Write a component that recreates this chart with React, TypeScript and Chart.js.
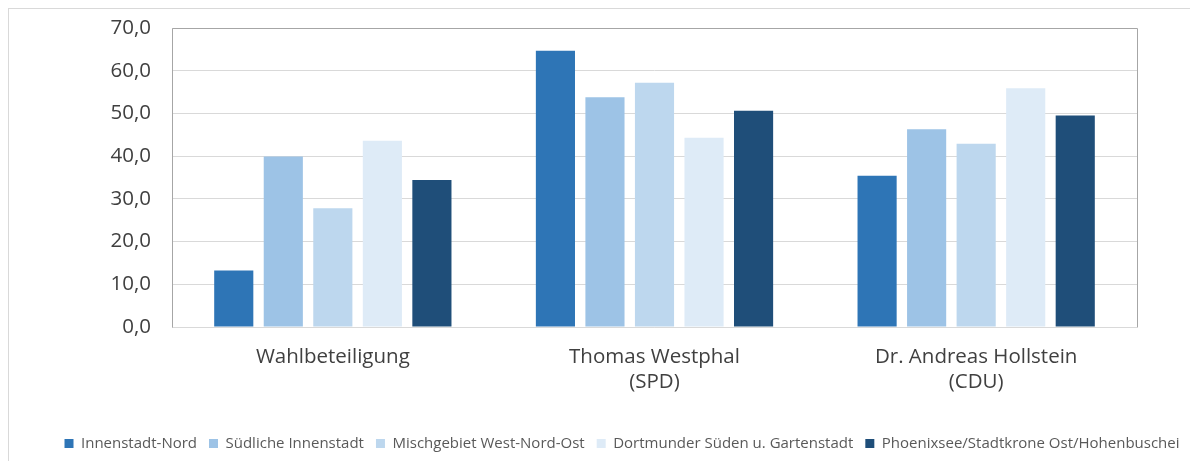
import React, { useEffect, useRef } from "react";
import { Chart, registerables } from "chart.js";

Chart.register(...registerables);

const categories: string[][] = [
  ["Wahlbeteiligung"],
  ["Thomas Westphal", "(SPD)"],
  ["Dr. Andreas Hollstein", "(CDU)"],
];
const seriesNames = [
  "Innenstadt-Nord",
  "Südliche Innenstadt",
  "Mischgebiet West-Nord-Ost",
  "Dortmunder Süden u. Gartenstadt",
  "Phoenixsee/Stadtkrone Ost/Hohenbuschei",
];
const innenstadtNord = [13.2, 64.7, 35.4];
const suedlicheInnenstadt = [39.9, 53.8, 46.3];
const mischgebiet = [27.8, 57.2, 42.9];
const dortmunderSueden = [43.6, 44.3, 55.9];
const phoenixsee = [34.4, 50.6, 49.5];
const seriesColors = ["#2e75b6", "#9dc3e6", "#bdd7ee", "#deebf7", "#1f4e79"];
const yTicks = [0, 10, 20, 30, 40, 50, 60, 70];

const FONT = "'Open Sans', 'DejaVu Sans', sans-serif";

const framePlugin = {
  id: "frame",
  afterDatasetsDraw(chart: any) {
    const { ctx, chartArea } = chart;
    const { left, right, top, bottom } = chartArea;
    ctx.save();
    ctx.lineWidth = 1;
    ctx.strokeStyle = "#d9d9d9";
    ctx.beginPath();
    ctx.moveTo(left, bottom + 0.5);
    ctx.lineTo(right, bottom + 0.5);
    ctx.stroke();
    ctx.strokeStyle = "#a6a6a6";
    ctx.beginPath();
    ctx.moveTo(left + 0.5, bottom + 0.5);
    ctx.lineTo(left + 0.5, top + 0.5);
    ctx.lineTo(right + 0.5, top + 0.5);
    ctx.lineTo(right + 0.5, bottom + 0.5);
    ctx.stroke();
    ctx.restore();
  },
};

export default function App() {
  const ref = useRef<HTMLCanvasElement | null>(null);
  useEffect(() => {
    if (!ref.current) return;
    const series = [innenstadtNord, suedlicheInnenstadt, mischgebiet, dortmunderSueden, phoenixsee];
    const chart = new Chart(ref.current, {
      type: "bar",
      data: {
        labels: categories,
        datasets: series.map((d, i) => ({
          label: seriesNames[i],
          data: d,
          backgroundColor: seriesColors[i],
          borderWidth: 0,
          barPercentage: 0.79,
          categoryPercentage: 0.77,
        })),
      },
      options: {
        animation: false,
        responsive: false,
        maintainAspectRatio: false,
        layout: { padding: { top: 19, left: 0, right: 0, bottom: 0 } },
        plugins: {
          tooltip: { enabled: false },
          legend: {
            position: "bottom",
            labels: {
              boxWidth: 9,
              boxHeight: 9,
              padding: 12,
              color: "#595959",
              font: { family: FONT, size: 15 },
            },
          },
        },
        scales: {
          x: {
            grid: { display: false },
            border: { display: false },
            ticks: {
              color: "#404040",
              font: { family: FONT, size: 20.5, lineHeight: 1.22 },
              padding: 10,
              maxRotation: 0,
              autoSkip: false,
            },
            afterFit(scale: any) {
              scale.height = 97;
            },
          },
          y: {
            min: 0,
            max: 70,
            afterBuildTicks(scale: any) {
              scale.ticks = yTicks.map((v) => ({ value: v }));
            },
            grid: {
              color: "#d9d9d9",
              lineWidth: 1,
              drawTicks: true,
              tickLength: 21,
              tickColor: "rgba(0,0,0,0)",
            },
            border: { display: false },
            ticks: {
              color: "#404040",
              font: { family: FONT, size: 20.5 },
              padding: 0,
              callback: (v: any) => Number(v).toFixed(1).replace(".", ","),
            },
            afterFit(scale: any) {
              scale.width = 163;
            },
          },
          yRight: {
            position: "right",
            min: 0,
            max: 70,
            grid: { display: false },
            border: { display: false },
            ticks: { display: false },
            afterFit(scale: any) {
              scale.width = 98;
            },
          },
        },
      },
      plugins: [framePlugin],
    });
    return () => chart.destroy();
  }, []);
  return (
    <div
      style={{
        width: 1190,
        height: 453,
        overflow: "hidden",
        borderTop: "1px solid #d9d9d9",
        borderLeft: "1px solid #d9d9d9",
        boxSizing: "border-box",
        background: "#fff",
      }}
    >
      <canvas ref={ref} width={1226} height={452} style={{ display: "block" }} />
    </div>
  );
}
